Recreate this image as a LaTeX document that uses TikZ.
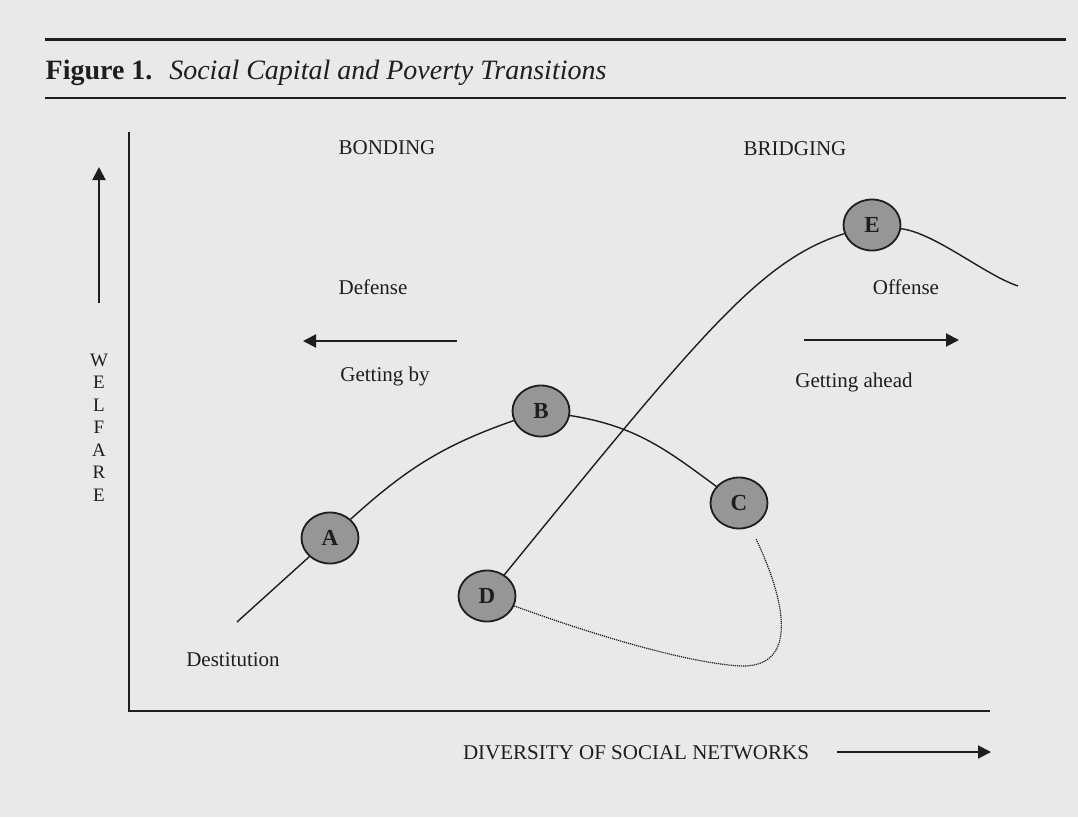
\documentclass[tikz,border=0pt]{standalone}
\usepackage{fontspec}
\setmainfont{Liberation Serif}
\usepackage{tikz}
\usetikzlibrary{shapes,arrows.meta}

\definecolor{paper}{RGB}{233,233,233}
\definecolor{ink}{RGB}{30,30,30}
\definecolor{dotfill}{RGB}{150,150,150}

\begin{document}
\begin{tikzpicture}[x=1pt,y=-1pt,>={Triangle[length=13pt,width=13pt]},line width=1.4pt,color=ink]
\tikzstyle{stage}=[ellipse,draw=ink,line width=1.8pt,fill=dotfill,minimum width=57pt,minimum height=51pt,inner sep=0pt,font=\fontsize{23}{26}\selectfont\bfseries]
\tikzstyle{lbl}=[inner sep=0pt,anchor=base,font=\fontsize{21}{22.5}\selectfont]
\fill[paper] (0,0) rectangle (1078,817);

% heading
\draw[line width=3pt] (45,39) -- (1066,39);
\node[lbl,anchor=base west,font=\fontsize{28}{32}\selectfont] (title) at (45,79) {\textbf{Figure 1.}\hspace{0.6em}\textit{Social Capital and Poverty Transitions}};
\draw[line width=2pt] (45,98) -- (1066,98);

% axes
\draw[line width=2.4pt] (129,132) -- (129,711) -- (990,711);
\coordinate (upS) at (99,303);
\coordinate (upN) at (99,167);
\draw[->,line width=2pt] (upS) -- (upN);
\node[lbl,anchor=north,align=center,font=\fontsize{19}{22.5}\selectfont] (welfare) at (99,353) {W\\E\\L\\F\\A\\R\\E};
\node[lbl] (diversity) at (636,759) {DIVERSITY OF SOCIAL NETWORKS};
\coordinate (divW) at (837,752);
\coordinate (divE) at (991,752);
\draw[->,line width=2pt] (divW) -- (divE);

% labels
\node[lbl] (bonding) at (387,154) {BONDING};
\node[lbl] (bridging) at (795,155) {BRIDGING};
\node[lbl] (defense) at (373,294) {Defense};
\node[lbl] (offense) at (906,294) {Offense};
\node[lbl] (gettingby) at (385,381) {Getting by};
\node[lbl] (gettingahead) at (854,387) {Getting ahead};
\node[lbl] (destitution) at (233,666) {Destitution};
\coordinate (defE) at (457,341);
\coordinate (defW) at (303,341);
\draw[->,line width=2pt] (defE) -- (defW);
\coordinate (offW) at (804,340);
\coordinate (offE) at (959,340);
\draw[->,line width=2pt] (offW) -- (offE);

% stages
\node[stage] (A) at (330,538) {A};
\node[stage] (B) at (541,411) {B};
\node[stage] (C) at (739,503) {C};
\node[stage] (D) at (487,596) {D};
\node[stage] (E) at (872,225) {E};
\coordinate (poor) at (237,622);
\coordinate (peak) at (1018,286);

% paths
\draw (poor) -- (A);
\draw (A) .. controls (409,466) and (447,444) .. (B);
\draw (B) .. controls (637,426) and (668,451) .. (C);
\draw (D) .. controls (700,335) and (760,260) .. (E);
\draw (E) .. controls (935,233) and (985,275) .. (peak);
\draw[line width=1.2pt,dash pattern=on 1.2pt off 0.9pt,shorten <=13pt] (C) .. controls (785,600) and (800,668) .. (740,666) .. controls (680,662) and (580,630) .. (D);
\end{tikzpicture}
\end{document}
